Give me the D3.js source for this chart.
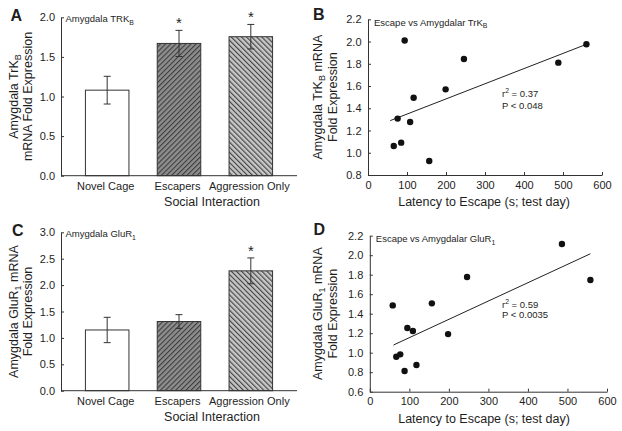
<!DOCTYPE html>
<html><head><meta charset="utf-8">
<script src="https://cdn.jsdelivr.net/npm/d3@7"></script>
<style>
body{margin:0;background:#fff;}
svg{display:block;font-family:"Liberation Sans",Arial,Helvetica,sans-serif;}
</style></head><body>
<svg id="chart" width="622" height="431"></svg>
<script>
// ---------- data ----------
const groups = ["Novel Cage", "Escapers", "Aggression Only"];
const trkbMean = [1.08, 1.67, 1.755];
const trkbSem  = [0.175, 0.165, 0.155];
const trkbSig  = [false, true, true];
const glurMean = [1.15, 1.31, 2.27];
const glurSem  = [0.24, 0.13, 0.245];
const glurSig  = [false, false, true];
const trkbTicks = [0, 0.5, 1.0, 1.5, 2.0];
const glurTicks = [0, 0.5, 1.0, 1.5, 2.0, 2.5, 3.0];

const latencyB = [94, 246, 199, 117, 76, 108, 66, 85, 157, 488, 560];
const trkbFold = [2.01, 1.843, 1.57, 1.495, 1.307, 1.277, 1.061, 1.091, 0.926, 1.81, 1.975];
const fitBx = [57, 560];
const fitBy = [1.289, 1.975];
const statsB = ["0.37", "P < 0.048"];

const latencyD = [58, 157, 246, 95, 109, 198, 67, 77, 88, 118, 486, 558];
const glurFold = [1.485, 1.506, 1.776, 1.253, 1.222, 1.191, 0.959, 0.983, 0.812, 0.874, 2.115, 1.745];
const fitDx = [60, 558];
const fitDy = [1.079, 2.015];
const statsD = ["0.59", "P < 0.0035"];

const latencyTicks = [0, 100, 200, 300, 400, 500, 600];
const scatterBTicks = [0.8, 1.0, 1.2, 1.4, 1.6, 1.8, 2.0, 2.2];
const scatterDTicks = [0.6, 0.8, 1.0, 1.2, 1.4, 1.6, 1.8, 2.0, 2.2];

// ---------- drawing ----------
const svg = d3.select("#chart");
const INK = "#1e1e1e";
const defs = svg.append("defs");
function hatch(id, bg, angle) {
  const p = defs.append("pattern").attr("id", id).attr("patternUnits", "userSpaceOnUse")
    .attr("width", 3.6).attr("height", 3.6).attr("patternTransform", `rotate(${angle})`);
  p.append("rect").attr("width", 3.6).attr("height", 3.6).attr("fill", bg);
  p.append("line").attr("x1", 0.6).attr("x2", 0.6).attr("y1", 0).attr("y2", 3.6)
    .attr("stroke", "#333").attr("stroke-width", 1);
}
hatch("hEsc", "#8e8e8e", 45);
hatch("hAgg", "#c6c6c6", -45);
const barFills = ["#ffffff", "url(#hEsc)", "url(#hAgg)"];

function rich(sel, segs, subShift) {
  let shifted = false;
  segs.forEach(s => {
    const t = sel.append("tspan").text(s.t);
    if (s.sub) { t.attr("font-size", "72%").attr("dy", subShift); shifted = true; }
    else if (s.sup) { t.attr("font-size", "72%").attr("dy", -subShift - 1); shifted = true; }
    else if (shifted) { t.attr("dy", s.back); shifted = false; }
  });
}

function panelLetter(x, y, L) {
  svg.append("text").attr("x", x).attr("y", y).attr("font-size", 16).attr("font-weight", "bold")
    .attr("fill", INK).text(L);
}

function yTitle(xBase, yc, lines) {
  lines.forEach((segs, i) => {
    const t = svg.append("text").attr("transform", `translate(${xBase[i]},${yc}) rotate(-90)`)
      .attr("text-anchor", "middle").attr("font-size", 12.5).attr("fill", INK);
    rich(t, segs, 3);
  });
}

function styleAxis(g) {
  g.selectAll("path,line").attr("stroke", "#333").attr("stroke-width", 1);
  g.selectAll("text").attr("fill", INK).attr("font-size", 11).attr("font-family", null);
}

function barPanel(o) {
  const x = d3.scaleBand().domain(groups).range([61, 297]).paddingInner(0.394).paddingOuter(0.34);
  const y = d3.scaleLinear().domain([o.ticks[0], o.ticks[o.ticks.length - 1]]).range([o.bottom, o.top]);
  const g = svg.append("g");
  g.selectAll("rect.bar").data(groups).join("rect").attr("class", "bar")
    .attr("x", d => x(d)).attr("width", x.bandwidth())
    .attr("y", (d, i) => y(o.mean[i])).attr("height", (d, i) => y(0) - y(o.mean[i]))
    .attr("fill", (d, i) => barFills[i]).attr("stroke", "#333").attr("stroke-width", 1);
  groups.forEach((d, i) => {
    const cx = x(d) + x.bandwidth() / 2;
    const lo = y(o.mean[i] - o.sem[i]), hi = y(o.mean[i] + o.sem[i]);
    g.append("line").attr("x1", cx).attr("x2", cx).attr("y1", lo).attr("y2", hi).attr("stroke", "#333");
    [lo, hi].forEach(v => g.append("line").attr("x1", cx - 3.5).attr("x2", cx + 3.5)
      .attr("y1", v).attr("y2", v).attr("stroke", "#333"));
    if (o.sig[i]) g.append("text").attr("x", cx).attr("y", hi - 2).attr("text-anchor", "middle")
      .attr("font-size", 15).attr("fill", INK).text("*");
    g.append("text").attr("x", cx - 1.5).attr("y", o.bottom + 14.5).attr("text-anchor", "middle")
      .attr("font-size", 11).attr("fill", INK).text(d);
  });
  const ax = svg.append("g").attr("transform", "translate(61,0)")
    .call(d3.axisLeft(y).tickValues(o.ticks).tickFormat(d3.format(".1f"))
      .tickSizeInner(-3).tickSizeOuter(0).tickPadding(6));
  styleAxis(ax);
  svg.append("line").attr("x1", 61).attr("x2", 297).attr("y1", o.bottom).attr("y2", o.bottom)
    .attr("stroke", "#333");
  svg.append("text").attr("x", 212).attr("y", o.bottom + 30.5).attr("text-anchor", "middle")
    .attr("font-size", 12.5).attr("fill", INK).text("Social Interaction");
  const tt = svg.append("text").attr("x", 65.5).attr("y", o.top + 4.8).attr("font-size", 9.5).attr("fill", INK);
  rich(tt, o.title, 2.5);
  panelLetter(o.lx, o.ly, o.letter);
  yTitle([17.5, 31.5], (o.top + o.bottom) / 2, o.ytitle);
}

function scatterPanel(o) {
  const x = d3.scaleLinear().domain([0, 600]).range(o.xr);
  const y = d3.scaleLinear().domain([o.ticks[0], o.ticks[o.ticks.length - 1]]).range([o.bottom, o.top]);
  const axL = svg.append("g").attr("transform", `translate(${o.xr[0]},0)`)
    .call(d3.axisLeft(y).tickValues(o.ticks).tickFormat(d3.format(".1f"))
      .tickSizeInner(-3).tickSizeOuter(0).tickPadding(6.5));
  styleAxis(axL);
  const axB = svg.append("g").attr("transform", `translate(0,${o.bottom})`)
    .call(d3.axisBottom(x).tickValues(latencyTicks).tickFormat(d3.format("d"))
      .tickSizeInner(-3).tickSizeOuter(0).tickPadding(6));
  styleAxis(axB);
  svg.append("line").attr("x1", x(o.fx[0])).attr("x2", x(o.fx[1]))
    .attr("y1", y(o.fy[0])).attr("y2", y(o.fy[1])).attr("stroke", "#222").attr("stroke-width", 1);
  svg.append("g").selectAll("circle").data(o.xs).join("circle")
    .attr("cx", d => x(d)).attr("cy", (d, i) => y(o.ys[i])).attr("r", 3.2).attr("fill", "#111");
  const r2 = svg.append("text").attr("x", 502).attr("y", o.statY[0]).attr("font-size", 9.5).attr("fill", INK);
  rich(r2, [{ t: "r" }, { t: "2", sup: true }, { t: " = " + o.stats[0], back: 3.5 }], 2.5);
  svg.append("text").attr("x", 502).attr("y", o.statY[1]).attr("font-size", 9.5).attr("fill", INK).text(o.stats[1]);
  svg.append("text").attr("x", 484).attr("y", o.bottom + 31).attr("text-anchor", "middle")
    .attr("font-size", 12.5).attr("fill", INK).text("Latency to Escape (s; test day)");
  const tt = svg.append("text").attr("x", o.xr[0] + 6).attr("y", o.top + 6.5).attr("font-size", 9.5).attr("fill", INK);
  rich(tt, o.title, 2.5);
  panelLetter(o.lx, o.ly, o.letter);
  yTitle([322, 337], (o.top + o.bottom) / 2, o.ytitle);
}

barPanel({
  mean: trkbMean, sem: trkbSem, sig: trkbSig, ticks: trkbTicks, top: 17.3, bottom: 175.7,
  letter: "A", lx: 10.5, ly: 20.7,
  title: [{ t: "Amygdala TRK" }, { t: "B", sub: true }],
  ytitle: [[{ t: "Amygdala TrK" }, { t: "B", sub: true }], [{ t: "mRNA Fold Expression" }]]
});
barPanel({
  mean: glurMean, sem: glurSem, sig: glurSig, ticks: glurTicks, top: 232.3, bottom: 390.7,
  letter: "C", lx: 12, ly: 235.5,
  title: [{ t: "Amygdala GluR" }, { t: "1", sub: true }],
  ytitle: [[{ t: "Amygdala GluR" }, { t: "1", sub: true }, { t: " mRNA", back: -3 }], [{ t: "Fold Expression" }]]
});
scatterPanel({
  xs: latencyB, ys: trkbFold, fx: fitBx, fy: fitBy, stats: statsB, statY: [96.5, 108.5],
  ticks: scatterBTicks, xr: [368, 602], top: 19.3, bottom: 175,
  letter: "B", lx: 313, ly: 19.5,
  title: [{ t: "Escape vs Amygdalar TrK" }, { t: "B", sub: true }],
  ytitle: [[{ t: "Amygdala TrK" }, { t: "B", sub: true }, { t: " mRNA", back: -3 }], [{ t: "Fold Expression" }]]
});
scatterPanel({
  xs: latencyD, ys: glurFold, fx: fitDx, fy: fitDy, stats: statsD, statY: [307.5, 317.5],
  ticks: scatterDTicks, xr: [369.8, 607], top: 235.7, bottom: 391.7,
  letter: "D", lx: 313.5, ly: 235,
  title: [{ t: "Escape vs Amygdalar GluR" }, { t: "1", sub: true }],
  ytitle: [[{ t: "Amygdala GluR" }, { t: "1", sub: true }, { t: " mRNA", back: -3 }], [{ t: "Fold Expression" }]]
});
</script>
</body></html>
